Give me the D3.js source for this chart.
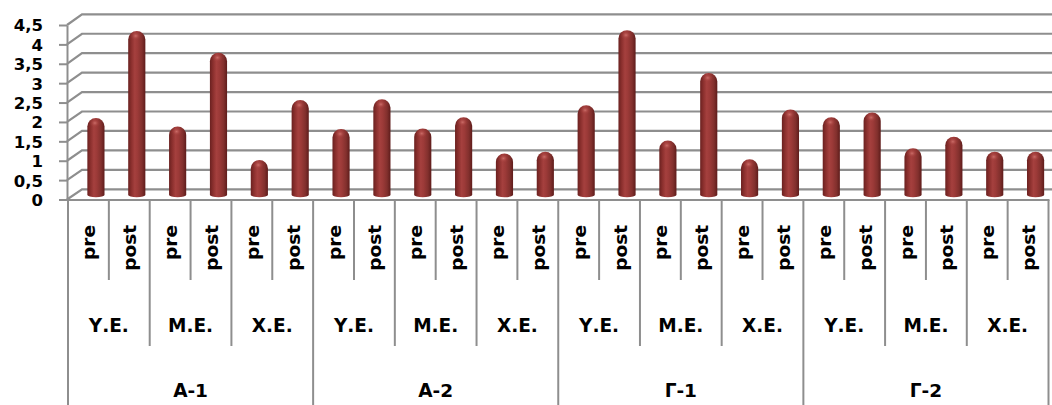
<!DOCTYPE html>
<html>
<head>
<meta charset="utf-8">
<script src="https://cdn.jsdelivr.net/npm/d3@7"></script>
<style>
  html, body { margin: 0; padding: 0; background: #fff; }
  svg { display: block; }
  text { font-family: "DejaVu Sans", sans-serif; font-weight: bold; fill: #000; }
</style>
</head>
<body>
<svg id="chart" width="1052" height="405"></svg>
<script>
// Groups, sub-groups and phases of the category axis
const groups = ["Α-1", "Α-2", "Γ-1", "Γ-2"];
const levels = ["Υ.Ε.", "Μ.Ε.", "Χ.Ε."];
const phases = ["pre", "post"];

// Scores per group, ordered Υ.Ε. pre/post, Μ.Ε. pre/post, Χ.Ε. pre/post
const scoresA1 = [1.98, 4.22, 1.76, 3.66, 0.90, 2.44];
const scoresA2 = [1.70, 2.46, 1.71, 2.00, 1.07, 1.11];
const scoresG1 = [2.31, 4.24, 1.40, 3.14, 0.92, 2.20];
const scoresG2 = [2.00, 2.12, 1.20, 1.50, 1.11, 1.11];

const yTicks = [0, 0.5, 1, 1.5, 2, 2.5, 3, 3.5, 4, 4.5];

const groupScores = [scoresA1, scoresA2, scoresG1, scoresG2];
const rows = [];
groups.forEach((g, gi) => {
  levels.forEach((l, li) => {
    phases.forEach((p, pi) => {
      rows.push({ key: `${g}|${l}|${p}`, group: g, level: l, phase: p,
                  value: groupScores[gi][li * 2 + pi] });
    });
  });
});

const svg = d3.select("#chart");
const gridColor = "#8e8e8e";

// 3D box: front plane, back wall and the mid-depth plane where the bars stand
const left = 67, right = 1048.5, depthX = 15;
const yFront = d3.scaleLinear().domain([0, 4.5]).range([199.5, 25]);
const yBack  = d3.scaleLinear().domain([0, 4.5]).range([189.3, 14.3]);
const yBar   = d3.scaleLinear().domain([0, 4.5]).range([195, 20]);
const x = d3.scaleBand().domain(rows.map(d => d.key)).range([left + 1, right]).padding(0);
const bw = x.bandwidth();

// Back-wall gridlines with their side-wall stubs
const grid = svg.append("g");
yTicks.forEach(t => {
  grid.append("path")
    .attr("d", `M${left},${yFront(t)} L${left + depthX},${yBack(t)} L1060,${yBack(t)}`)
    .attr("fill", "none").attr("stroke", gridColor).attr("stroke-width", 2.2);
});

// Value axis
const yAxis = svg.append("g").attr("transform", `translate(${left},0)`)
  .call(d3.axisLeft(yFront).tickValues(yTicks).tickSize(8).tickSizeOuter(0).tickPadding(16)
    .tickFormat(d => String(d).replace(".", ",")));
yAxis.select(".domain").attr("stroke", gridColor).attr("stroke-width", 2);
yAxis.selectAll(".tick line").attr("stroke", gridColor).attr("stroke-width", 2);
yAxis.selectAll(".tick text").attr("font-size", 16.5).attr("font-family", "DejaVu Sans")
  .attr("font-weight", "bold").attr("fill", "#000").attr("dy", "0.36em");

// Bar shading
const defs = svg.append("defs");
const body = defs.append("linearGradient").attr("id", "barBody").attr("x1", 0).attr("x2", 1).attr("y1", 0).attr("y2", 0);
[[0, "#6a2120"], [0.18, "#8a2f2d"], [0.38, "#a5403e"], [0.55, "#9c3a38"], [0.8, "#82302d"], [1, "#5e1c1b"]]
  .forEach(([o, c]) => body.append("stop").attr("offset", o).attr("stop-color", c));
const shine = defs.append("radialGradient").attr("id", "barShine").attr("cx", 0.5).attr("cy", 0.5).attr("r", 0.5);
[[0, "#d27570", 0.85], [0.6, "#b04a47", 0.35], [1, "#a03f3d", 0]]
  .forEach(([o, c, a]) => shine.append("stop").attr("offset", o).attr("stop-color", c).attr("stop-opacity", a));

const barOffset = depthX / 2;
const bwBar = bw * 0.42;
const capRy = 8.5, baseRy = 2.2;

const bars = svg.append("g").selectAll("g").data(rows).join("g");
bars.append("path")
  .attr("d", d => {
    const cx = x(d.key) + bw / 2 + barOffset;
    const x0 = cx - bwBar / 2, x1 = cx + bwBar / 2;
    const yb = yBar(0), yt = yBar(d.value);
    return `M${x0},${yb} A${bwBar / 2},${baseRy} 0 0 0 ${x1},${yb} L${x1},${yt + capRy} ` +
           `A${bwBar / 2},${capRy} 0 0 0 ${x0},${yt + capRy} Z`;
  })
  .attr("fill", "url(#barBody)");
bars.append("ellipse")
  .attr("cx", d => x(d.key) + bw / 2 + barOffset - 1)
  .attr("cy", d => yBar(d.value) + 5)
  .attr("rx", 5.5).attr("ry", 4.5)
  .attr("fill", "url(#barShine)");

// Category axis line
svg.append("line").attr("x1", 59).attr("x2", right + 1).attr("y1", 200).attr("y2", 200)
  .attr("stroke", gridColor).attr("stroke-width", 2);

// Multi-level separators
const sep = svg.append("g").attr("stroke", gridColor).attr("stroke-width", 2);
const edges = rows.map(d => x(d.key)).concat([right]);
edges.forEach((ex, i) => {
  let y2;
  if (i % 6 === 0) y2 = 405;
  else if (i % 2 === 0) y2 = 346;
  else y2 = 280;
  sep.append("line").attr("x1", ex).attr("x2", ex).attr("y1", 200).attr("y2", y2);
});

// Phase labels (rotated)
svg.append("g").selectAll("text").data(rows).join("text")
  .attr("transform", d => `translate(${x(d.key) + bw / 2 + 7},225) rotate(-90)`)
  .attr("text-anchor", "end")
  .attr("font-size", 18.5)
  .text(d => d.phase);

// Sub-group labels
const levelCells = [];
groups.forEach(g => levels.forEach(l => levelCells.push({ g, l })));
svg.append("g").selectAll("text").data(levelCells).join("text")
  .attr("x", d => x(`${d.g}|${d.l}|pre`) + bw)
  .attr("y", 331.5)
  .attr("text-anchor", "middle")
  .attr("font-size", 18.5)
  .text(d => d.l);

// Group labels
svg.append("g").selectAll("text").data(groups).join("text")
  .attr("x", g => x(`${g}|${levels[1]}|pre`) + bw)
  .attr("y", 396.5)
  .attr("text-anchor", "middle")
  .attr("font-size", 18.5)
  .text(g => g);
</script>
</body>
</html>
